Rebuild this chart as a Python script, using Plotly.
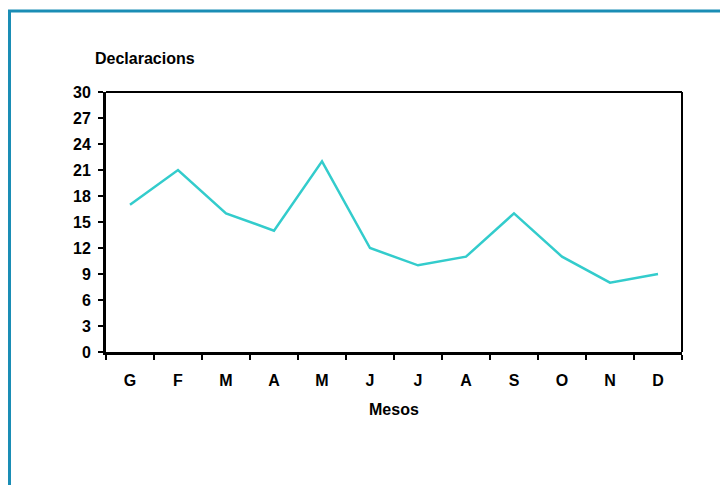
import plotly.graph_objects as go

months = ["G", "F", "M", "A", "M", "J", "J", "A", "S", "O", "N", "D"]
declaracions = [17, 21, 16, 14, 22, 12, 10, 11, 16, 11, 8, 9]
y_ticks = [0, 3, 6, 9, 12, 15, 18, 21, 24, 27, 30]

x_pos = list(range(len(months)))
boundaries = [i - 0.5 for i in range(len(months) + 1)]

# page body has an 8px margin; compensate so the picture lines up
OFF = 8
W, H = 728, 485
L, R, T, B = 106 - OFF, 682 - OFF, 92 - OFF, 352 - OFF
pw, ph = R - L, B - T

def px_x(p):
    return (p - OFF - L) / pw

def px_y(p):
    return (B - (p - OFF)) / ph

FAM = "Liberation Sans, Arial, sans-serif"
font = dict(family=FAM, size=16, color="black")
bold = dict(family=FAM, size=16, color="black", weight="bold")

fig = go.Figure()
fig.add_trace(go.Scatter(
    x=x_pos, y=declaracions, mode="lines",
    line=dict(color="#33cccc", width=2.5),
    hoverinfo="skip", showlegend=False,
))

fig.update_layout(
    width=W, height=H,
    margin=dict(l=L, r=W - R, t=T, b=H - B),
    paper_bgcolor="white", plot_bgcolor="white",
    font=font,
    xaxis=dict(
        range=[-0.5, 11.5], tickvals=x_pos, ticktext=months,
        ticks="outside", ticklen=12, tickcolor="rgba(0,0,0,0)",
        showgrid=False, zeroline=False,
        showline=True, linecolor="black", linewidth=3,
        tickfont=bold,
        minor=dict(tickvals=boundaries, ticks="outside", ticklen=5, tickwidth=2, tickcolor="black", showgrid=False),
    ),
    yaxis=dict(
        range=[0, 30], tickvals=y_ticks,
        ticks="outside", ticklen=5, tickwidth=2, tickcolor="black",
        ticklabelstandoff=4,
        showgrid=False, zeroline=False,
        showline=True, linecolor="black", linewidth=3,
        tickfont=bold,
    ),
    shapes=[
        dict(type="line", xref="paper", yref="paper", x0=0, x1=1, y0=1, y1=1,
             line=dict(color="black", width=2)),
        dict(type="line", xref="paper", yref="paper", x0=1, x1=1, y0=0, y1=1,
             line=dict(color="black", width=2)),
        dict(type="rect", xref="paper", yref="paper",
             x0=px_x(9.5), x1=px_x(760), y0=px_y(520), y1=px_y(11),
             line=dict(color="#1a8db5", width=3), fillcolor="rgba(0,0,0,0)", layer="below"),
    ],
    annotations=[
        dict(text="<b>Declaracions</b>", xref="paper", yref="paper",
             x=px_x(93), y=px_y(58), xanchor="left", yanchor="middle",
             showarrow=False, font=font),
        dict(text="<b>Mesos</b>", xref="paper", yref="paper",
             x=px_x(394), y=px_y(409), xanchor="center", yanchor="middle",
             showarrow=False, font=font),
    ],
)

fig.write_html("out.html")
